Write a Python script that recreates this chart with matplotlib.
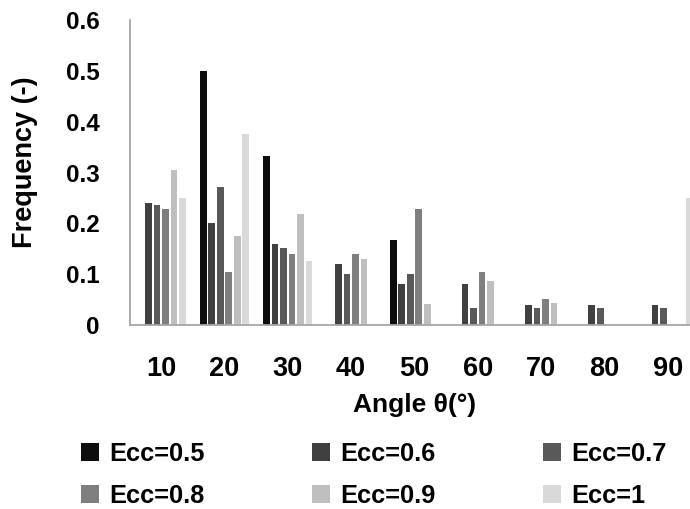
import numpy as np
import matplotlib
matplotlib.use("Agg")
import matplotlib.pyplot as plt

plt.rcParams["font.family"] = ["Liberation Sans", "DejaVu Sans"]
plt.rcParams["font.weight"] = "bold"

# angle classes (deg) and frequencies per eccentricity
angles = ["10", "20", "30", "40", "50", "60", "70", "80", "90"]
ecc_05 = [0, 0.5, 0.333, 0, 0.167, 0, 0, 0, 0]
ecc_06 = [0.24, 0.2, 0.16, 0.12, 0.08, 0.08, 0.04, 0.04, 0.04]
ecc_07 = [0.236, 0.272, 0.151, 0.101, 0.101, 0.033, 0.033, 0.033, 0.033]
ecc_08 = [0.228, 0.104, 0.14, 0.139, 0.228, 0.104, 0.051, 0, 0]
ecc_09 = [0.304, 0.175, 0.218, 0.13, 0.042, 0.087, 0.043, 0, 0]
ecc_10 = [0.25, 0.375, 0.125, 0, 0, 0, 0, 0, 0.25]
series_labels = ["Ecc=0.5", "Ecc=0.6", "Ecc=0.7", "Ecc=0.8", "Ecc=0.9", "Ecc=1"]
y_ticks = [0, 0.1, 0.2, 0.3, 0.4, 0.5, 0.6]
y_tick_labels = ["0", "0.1", "0.2", "0.3", "0.4", "0.5", "0.6"]

series = [ecc_05, ecc_06, ecc_07, ecc_08, ecc_09, ecc_10]
colors = ["#0d0d0d", "#404040", "#595959", "#7f7f7f", "#bfbfbf", "#d9d9d9"]

W, H = 690, 509
fig = plt.figure(figsize=(W / 100, H / 100), dpi=100)
ax = fig.add_axes([129.5 / W, (H - 325) / H, 570 / W, 305 / H])

x = np.arange(len(angles))
slot = 0.134
handles = []
for i, (vals, lab, col) in enumerate(zip(series, series_labels, colors)):
    b = ax.bar(x + (i - 2.5) * slot, vals, width=slot * 0.78, color=col,
               label=lab, linewidth=0)
    handles.append(b)

ax.set_xlim(-0.5, len(angles) - 0.5)
ax.set_ylim(0, 0.6)
ax.set_xticks(x)
ax.set_xticklabels(angles, fontsize=19.5, fontweight="bold")
ax.set_yticks(y_ticks)
ax.set_yticklabels(y_tick_labels, fontsize=17.5, fontweight="bold")
ax.tick_params(axis="x", length=0, pad=22)
ax.tick_params(axis="y", length=0, pad=21.5)

for s in ["top", "right"]:
    ax.spines[s].set_visible(False)
for s in ["left", "bottom"]:
    ax.spines[s].set_color("#a6a6a6")
    ax.spines[s].set_linewidth(1.3)

ax.set_xlabel("Angle θ(°)", fontsize=19, fontweight="bold", labelpad=8)
fig.text(25.5 / W, 1 - 162.5 / H, "Frequency (-)", rotation=90,
         ha="center", va="center", fontsize=19.5, fontweight="bold")

# legend filled row by row like the original (matplotlib fills columns)
order = [0, 3, 1, 4, 2, 5]
fig.legend([handles[k] for k in order], [series_labels[k] for k in order],
           ncol=3, loc="upper left", bbox_to_anchor=(81 / W, 1 - 442 / H),
           frameon=False, handlelength=0.7, handleheight=0.7,
           handletextpad=0.43, columnspacing=4.2, labelspacing=0.7,
           borderpad=0, borderaxespad=0, prop={"weight": "bold", "size": 18.3})

fig.savefig("out.png", dpi=100)
